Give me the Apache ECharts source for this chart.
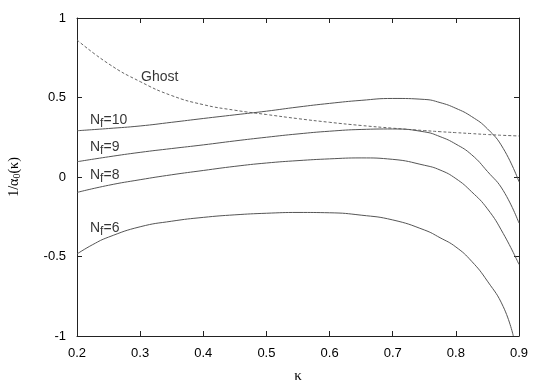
<!DOCTYPE html>
<html>
<head>
<meta charset="utf-8">
<script src="https://cdn.jsdelivr.net/npm/echarts@6/dist/echarts.min.js"></script>
<style>
  html, body { margin: 0; padding: 0; background: #fff; }
  #chart { width: 545px; height: 382px; }
</style>
</head>
<body>
<div id="chart"></div>
<script>
const kappa = [0.2, 0.25, 0.3, 0.35, 0.4, 0.45, 0.5, 0.55, 0.6, 0.65, 0.7, 0.75, 0.775, 0.8, 0.825, 0.85, 0.875, 0.9];

const ghost = [0.862, 0.712, 0.60, 0.512, 0.455, 0.42, 0.393, 0.367, 0.344, 0.324, 0.307, 0.292, 0.285, 0.279, 0.273, 0.267, 0.262, 0.258];
const nf10 = [0.291, 0.305, 0.321, 0.344, 0.368, 0.391, 0.414, 0.44, 0.463, 0.482, 0.494, 0.488, 0.468, 0.432, 0.38, 0.303, 0.18, -0.03];
const nf9 = [0.096, 0.127, 0.155, 0.179, 0.202, 0.227, 0.25, 0.271, 0.288, 0.299, 0.302, 0.284, 0.254, 0.207, 0.14, 0.035, -0.085, -0.29];
const nf8 = [-0.097, -0.052, -0.017, 0.014, 0.041, 0.067, 0.088, 0.103, 0.114, 0.12, 0.111, 0.074, 0.044, -0.01, -0.093, -0.2, -0.355, -0.55];

// N_f=6 hits the bottom before 0.9
const kappa6 = [0.2, 0.225, 0.25, 0.3, 0.35, 0.4, 0.45, 0.5, 0.55, 0.6, 0.65, 0.7, 0.75, 0.775, 0.8, 0.825, 0.85, 0.875, 0.891];
const nf6 = [-0.484, -0.425, -0.378, -0.313, -0.278, -0.254, -0.238, -0.228, -0.223, -0.225, -0.24, -0.27, -0.333, -0.382, -0.44, -0.53, -0.655, -0.815, -1.0];

const xTicks = [0.2, 0.3, 0.4, 0.5, 0.6, 0.7, 0.8, 0.9];
const yTicks = [-1, -0.5, 0, 0.5, 1];

// curve labels: [kappa, value, text]
const curveLabels = [
  [0.331, 0.629, 'Ghost'],
  [0.2206, 0.358, 'N{sub|f}=10'],
  [0.2206, 0.19, 'N{sub|f}=9'],
  [0.2206, 0.0126, 'N{sub|f}=8'],
  [0.2206, -0.319, 'N{sub|f}=6'],
];

const zip = (xs, ys) => xs.map((x, i) => [x, ys[i]]);

const chart = echarts.init(document.getElementById('chart'), null, { renderer: 'canvas' });

const lineColor = '#555';
const axisColor = '#222';
const sans = 'Liberation Sans, Arial, sans-serif';
const serif = 'Liberation Serif, Times New Roman, serif';

const baseX = {
  type: 'value',
  min: 0.2,
  max: 0.9,
  interval: 0.1,
  splitLine: { show: false },
  axisLine: { onZero: false, lineStyle: { color: axisColor, width: 1 } },
  axisTick: { inside: true, length: 5, lineStyle: { color: axisColor } },
};
const baseY = {
  type: 'value',
  min: -1,
  max: 1,
  interval: 0.5,
  splitLine: { show: false },
  axisLine: { onZero: false, lineStyle: { color: axisColor, width: 1 } },
  axisTick: { inside: true, length: 5, lineStyle: { color: axisColor } },
};

const solid = (data) => ({
  type: 'line',
  data,
  showSymbol: false,
  smooth: 0.5,
  lineStyle: { color: lineColor, width: 1 },
  silent: true,
});

const option = {
  animation: false,
  backgroundColor: '#fff',
  grid: { left: 77, right: 26, top: 18, bottom: 46, outerBoundsMode: 'none', containLabel: false },
  xAxis: [
    Object.assign({}, baseX, {
      position: 'bottom',
      name: 'κ',
      nameLocation: 'middle',
      nameGap: 33,
      nameTextStyle: { fontFamily: serif, fontSize: 15, color: '#000' },
      axisLabel: {
        margin: 11,
        fontFamily: sans,
        fontSize: 13,
        color: '#000',
        formatter: (v) => xTicks.includes(Math.round(v * 10) / 10) ? (Math.round(v * 10) / 10).toFixed(1) : '',
      },
    }),
    Object.assign({}, baseX, { position: 'top', axisLabel: { show: false } }),
  ],
  yAxis: [
    Object.assign({}, baseY, {
      position: 'left',
      name: '1/α{sub|0}(κ)',
      nameLocation: 'middle',
      nameRotate: 90,
      nameGap: 55,
      nameTextStyle: {
        fontFamily: serif,
        fontSize: 14,
        color: '#000',
        rich: { sub: { fontFamily: serif, fontSize: 10, verticalAlign: 'bottom', padding: [6, 0, 0, 0] } },
      },
      axisLabel: {
        margin: 11,
        fontFamily: sans,
        fontSize: 13,
        color: '#000',
        formatter: (v) => yTicks.includes(v) ? String(v) : '',
      },
    }),
    Object.assign({}, baseY, { position: 'right', axisLabel: { show: false } }),
  ],
  series: [
    {
      type: 'line',
      data: zip(kappa, ghost),
      showSymbol: false,
      smooth: 0.5,
      lineStyle: { color: '#666', width: 1, type: [3, 2] },
      silent: true,
    },
    solid(zip(kappa, nf10)),
    solid(zip(kappa, nf9)),
    solid(zip(kappa, nf8)),
    solid(zip(kappa6, nf6)),
    {
      type: 'scatter',
      symbolSize: 0,
      silent: true,
      data: curveLabels.map(d => ({ value: [d[0], d[1]], text: d[2] })),
      label: {
        show: true,
        position: 'inside',
        formatter: (p) => p.data.text,
        color: '#000',
        fontFamily: sans,
        fontSize: 14,
        align: 'left',
        verticalAlign: 'middle',
        rich: {
          sub: { fontFamily: sans, fontSize: 12, color: '#000', padding: [8, 0, 0, 0] },
        },
      },
    },
  ],
};

// center the "Ghost" label on its point, N_f labels start at their point
option.series[5].data[0].label = { align: 'center' };

chart.setOption(option);
</script>
</body>
</html>
